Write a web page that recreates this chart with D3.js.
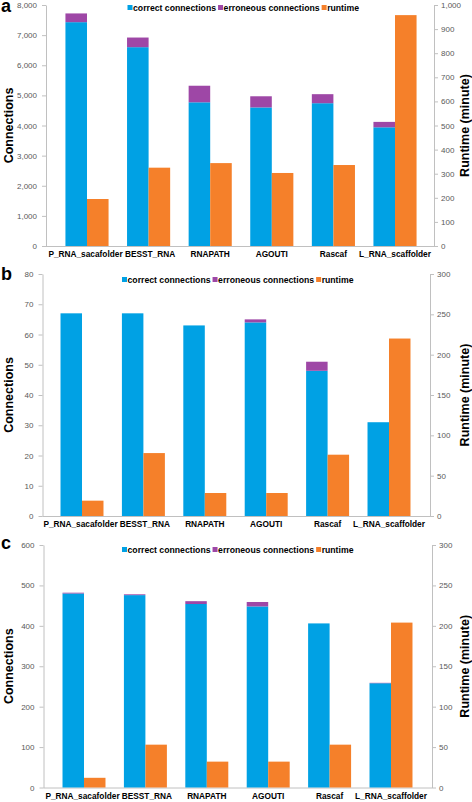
<!DOCTYPE html>
<html>
<head>
<meta charset="utf-8">
<script src="https://cdn.jsdelivr.net/npm/d3@7"></script>
<style>
  html, body { margin: 0; padding: 0; background: #ffffff; }
  svg { display: block; font-family: "Liberation Sans", Arial, sans-serif; }
  svg text { font-family: "Liberation Sans", Arial, sans-serif; }
</style>
</head>
<body>
<svg id="chart" width="472" height="802"></svg>
<script>
// ---------- data ----------
const categories = ["P_RNA_sacafolder", "BESST_RNA", "RNAPATH", "AGOUTI", "Rascaf", "L_RNA_scaffolder"];
const seriesNames = ["correct connections", "erroneous connections", "runtime"];

const aCorrect   = [7430, 6600, 4770, 4600, 4740, 3940];
const aErroneous = [290, 320, 550, 370, 300, 180];
const aRuntime   = [195, 325, 344, 303, 336, 958];

const bCorrect   = [67, 67, 63, 64, 48, 31];
const bErroneous = [0, 0, 0, 1, 3, 0];
const bRuntime   = [19, 78, 28.5, 28.5, 76, 220];

const cCorrect   = [480, 476, 454, 448, 406, 258];
const cErroneous = [2, 2, 7, 11, 0, 1];
const cRuntime   = [12, 53, 32, 32, 53, 204];

const aLeftTicks  = [0, 1000, 2000, 3000, 4000, 5000, 6000, 7000, 8000];
const aRightTicks = [0, 100, 200, 300, 400, 500, 600, 700, 800, 900, 1000];
const bLeftTicks  = [0, 10, 20, 30, 40, 50, 60, 70, 80];
const bRightTicks = [0, 50, 100, 150, 200, 250, 300];
const cLeftTicks  = [0, 100, 200, 300, 400, 500, 600];
const cRightTicks = [0, 50, 100, 150, 200, 250, 300];

// ---------- styles ----------
const colors = ["#00a1e4", "#9e47a6", "#f5802a"];
const axisColor = "#c0c0c0";
const tickTextColor = "#595959";
const FONT = "'Liberation Sans', Arial, sans-serif";

const svg = d3.select("#chart");

function drawPanel(p) {
  const g = svg.append("g");
  const x = d3.scaleBand().domain(categories).range([p.x0, p.x1]);
  const bw = x.bandwidth() * 0.35;
  const yL = d3.scaleLinear().domain([0, p.leftMax]).range([p.bottom, p.top]);
  const yR = d3.scaleLinear().domain([0, p.rightMax]).range([p.bottom, p.top]);

  // left axis
  const la = g.append("g").attr("transform", `translate(${p.left},0)`)
    .call(d3.axisLeft(yL).tickValues(p.leftTicks).tickSize(4).tickSizeOuter(0).tickPadding(5)
      .tickFormat(p.leftFormat));
  // right axis
  const ra = g.append("g").attr("transform", `translate(${p.right},0)`)
    .call(d3.axisRight(yR).tickValues(p.rightTicks).tickSize(4).tickSizeOuter(0).tickPadding(3));
  [la, ra].forEach(a => {
    a.selectAll("path.domain").attr("stroke", axisColor);
    a.selectAll(".tick line").attr("stroke", axisColor);
    a.selectAll(".tick text").attr("fill", tickTextColor).style("font-size", "8px")
      .style("font-family", FONT);
  });
  // bottom axis line
  g.append("line").attr("x1", p.left).attr("x2", p.right)
    .attr("y1", p.bottom + 0.5).attr("y2", p.bottom + 0.5)
    .attr("stroke", axisColor);

  const rows = categories.map((c, i) => ({c, correct: p.correct[i], err: p.err[i], run: p.run[i]}));

  // correct connections
  g.selectAll("rect.correct").data(rows).join("rect")
    .attr("x", d => x(d.c) + x.bandwidth() / 2 - bw)
    .attr("width", bw)
    .attr("y", d => yL(d.correct))
    .attr("height", d => yL(0) - yL(d.correct))
    .attr("fill", colors[0]);
  // erroneous connections (stacked)
  g.selectAll("rect.err").data(rows.filter(d => d.err > 0)).join("rect")
    .attr("x", d => x(d.c) + x.bandwidth() / 2 - bw)
    .attr("width", bw)
    .attr("y", d => yL(d.correct + d.err))
    .attr("height", d => yL(d.correct) - yL(d.correct + d.err))
    .attr("fill", colors[1]);
  // runtime
  g.selectAll("rect.run").data(rows).join("rect")
    .attr("x", d => x(d.c) + x.bandwidth() / 2)
    .attr("width", bw)
    .attr("y", d => yR(d.run))
    .attr("height", d => yR(0) - yR(d.run))
    .attr("fill", colors[2]);

  // category labels
  g.selectAll("text.cat").data(categories).join("text")
    .attr("x", (d, i) => x(d) + x.bandwidth() / 2 + (i === 0 ? -1.5 : i === 1 ? 1.5 : 0))
    .attr("y", p.bottom + 11)
    .attr("text-anchor", "middle")
    .style("font-family", FONT)
    .style("font-size", "8.3px").style("font-weight", "bold").attr("fill", "#000")
    .text(d => d);

  // axis titles
  const midY = (p.top + p.bottom) / 2;
  g.append("text").attr("transform", `translate(12.5,${midY}) rotate(-90)`)
    .attr("text-anchor", "middle").style("font-family", FONT)
    .style("font-size", "12.5px").style("font-weight", "bold")
    .text("Connections");
  g.append("text").attr("transform", `translate(469,${midY}) rotate(-90)`)
    .attr("text-anchor", "middle").style("font-family", FONT)
    .style("font-size", "12.5px").style("font-weight", "bold")
    .text("Runtime (minute)");

  // panel letter
  g.append("text").attr("x", 1).attr("y", p.letterY).style("font-family", FONT)
    .style("font-size", "18px").style("font-weight", "bold").text(p.letter);

  // legend
  let lx = p.legendX;
  seriesNames.forEach((name, i) => {
    g.append("rect").attr("x", lx).attr("y", p.legendY - 2.5).attr("width", 5).attr("height", 5)
      .attr("fill", colors[i]);
    const t = g.append("text").attr("x", lx + 5.5).attr("y", p.legendY + 3)
      .style("font-family", FONT)
      .style("font-size", "8.7px").style("font-weight", "bold").text(name);
    lx += 5.5 + t.node().getComputedTextLength() + 2;
  });
}

drawPanel({
  letter: "a", letterY: 12,
  top: 5, bottom: 246, left: 46, right: 434, x0: 56.2, x1: 425.8,
  leftMax: 8000, rightMax: 1000, leftTicks: aLeftTicks, rightTicks: aRightTicks,
  leftFormat: d3.format(","),
  correct: aCorrect, err: aErroneous, run: aRuntime,
  legendX: 127.5, legendY: 7.5
});
drawPanel({
  letter: "b", letterY: 280,
  top: 274, bottom: 516, left: 42.5, right: 430, x0: 51.3, x1: 419.7,
  leftMax: 80, rightMax: 300, leftTicks: bLeftTicks, rightTicks: bRightTicks,
  leftFormat: d3.format("d"),
  correct: bCorrect, err: bErroneous, run: bRuntime,
  legendX: 122, legendY: 279.5
});
drawPanel({
  letter: "c", letterY: 549,
  top: 545, bottom: 787.5, left: 43.5, right: 432, x0: 53.3, x1: 421.7,
  leftMax: 600, rightMax: 300, leftTicks: cLeftTicks, rightTicks: cRightTicks,
  leftFormat: d3.format("d"),
  correct: cCorrect, err: cErroneous, run: cRuntime,
  legendX: 122, legendY: 549.5
});
</script>
</body>
</html>
